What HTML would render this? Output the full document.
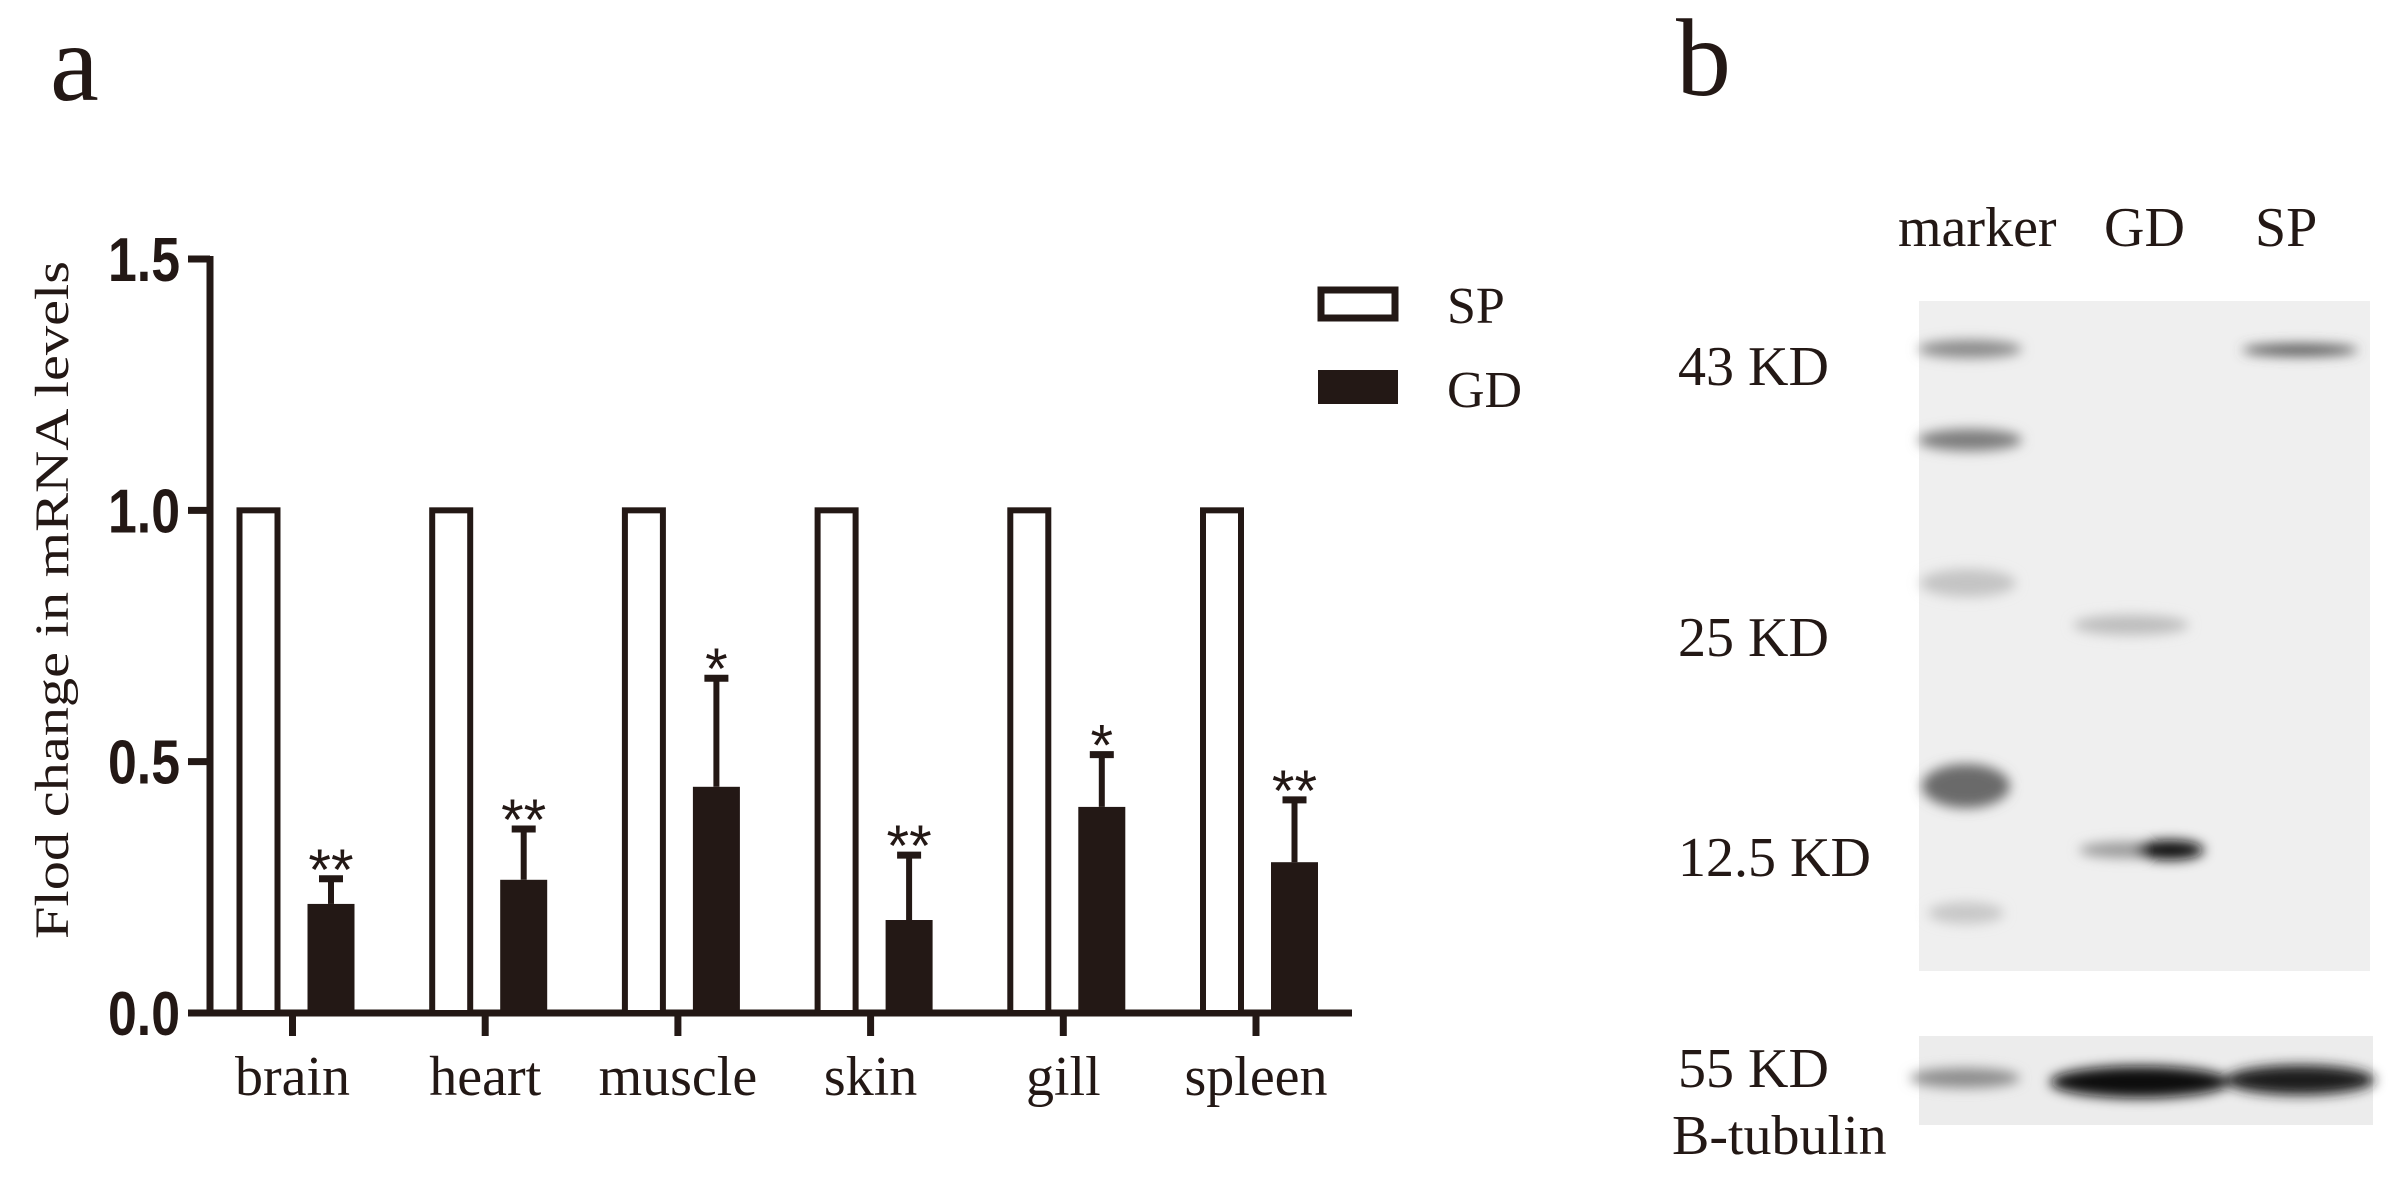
<!DOCTYPE html>
<html><head><meta charset="utf-8"><style>
html,body{margin:0;padding:0;background:#fff;}
svg{display:block;}
</style></head><body>
<svg id="fig" width="2405" height="1177" viewBox="0 0 2405 1177" xmlns="http://www.w3.org/2000/svg">
<defs>
<filter id="blur6" x="-50%" y="-200%" width="200%" height="500%"><feGaussianBlur stdDeviation="6"/></filter>
</defs>
<text x="50" y="100" font-family="Liberation Serif, serif" font-size="110" fill="#231815">a</text>
<text x="1676" y="95" font-family="Liberation Serif, serif" font-size="110" fill="#231815">b</text>
<g id="chart"></g>
<g id="legend">
<rect x="1321" y="290" width="74" height="28" fill="#fff" stroke="#231815" stroke-width="7"/>
<text x="1447" y="323" font-family="Liberation Serif, serif" font-size="52" fill="#231815">SP</text>
<rect x="1318" y="370" width="80" height="34" fill="#231815"/>
<text x="1447" y="407" font-family="Liberation Serif, serif" font-size="52" fill="#231815">GD</text>
</g>
<g id="blot" font-family="Liberation Serif, serif" font-size="56" fill="#231815">
<text x="1898" y="246">marker</text>
<text x="2104" y="246">GD</text>
<text x="2255" y="246">SP</text>
<text x="1678" y="385">43 KD</text>
<text x="1678" y="656">25 KD</text>
<text x="1678" y="876">12.5 KD</text>
<text x="1678" y="1087">55 KD</text>
<text x="1672" y="1154">B-tubulin</text>
<rect x="1919" y="301" width="451" height="670" fill="#efefef"/>
<rect x="1919" y="1036" width="454" height="89" fill="#ececec"/>
<g filter="url(#blur6)">
<ellipse cx="1970" cy="349" rx="52" ry="9" fill="#8a8a8a"/>
<ellipse cx="1970" cy="440" rx="52" ry="11" fill="#7d7d7d"/>
<ellipse cx="1968" cy="583" rx="48" ry="14" fill="#c4c4c4"/>
<ellipse cx="1966" cy="786" rx="44" ry="22" fill="#6a6a6a"/>
<ellipse cx="1966" cy="913" rx="38" ry="11" fill="#c8c8c8"/>
<ellipse cx="2131" cy="625" rx="58" ry="10" fill="#bdbdbd"/>
<ellipse cx="2125" cy="850" rx="46" ry="8" fill="#9a9a9a"/>
<ellipse cx="2170" cy="850" rx="34" ry="10" fill="#111"/>
<ellipse cx="2300" cy="350" rx="58" ry="6" fill="#555"/>
<ellipse cx="1965" cy="1078" rx="55" ry="10" fill="#8d8d8d"/>
<ellipse cx="2140" cy="1082" rx="90" ry="16" fill="#111"/>
<ellipse cx="2300" cy="1080" rx="75" ry="15" fill="#1a1a1a"/>
</g>
</g>
</svg>
<script>
const categories = ["brain","heart","muscle","skin","gill","spleen"];
const spValues = [1,1,1,1,1,1];
const gdValues = [0.217,0.265,0.45,0.185,0.41,0.30];
const gdErrors = [0.056,0.107,0.222,0.135,0.11,0.13];
const stars = ["**","**","*","**","*","**"];
const yTicks = [0,0.5,1.0,1.5];
const yTickLabels = ["0.0","0.5","1.0","1.5"];

const NS="http://www.w3.org/2000/svg";
const g=document.getElementById('chart');
const C="#231815";
const x0=210, x1=1352, y0=1013, yTop=259, yMax=1.5;
function yScale(v){return y0-(v/yMax)*(y0-yTop);}
const firstTick=292.5, step=192.7;
function xScale(i){return firstTick+i*step;}
function mk(tag,attrs){const e=document.createElementNS(NS,tag);for(const k in attrs)e.setAttribute(k,attrs[k]);g.appendChild(e);return e;}

let e=mk('line',{x1:x0,y1:yTop-3,x2:x0,y2:y0+3.5,stroke:C,'stroke-width':7});


e=mk('line',{x1:x0-22,y1:y0,x2:x1,y2:y0,stroke:C,'stroke-width':7});



yTicks.forEach((t,i)=>{
  const y=yScale(t);
  let tk=mk('line',{x1:x0-22,y1:y,x2:x0,y2:y,stroke:C,'stroke-width':7});
  
  
  let tl=mk('text',{x:x0-30,y:y+22,'text-anchor':'end','font-family':'Liberation Sans, sans-serif','font-weight':'bold','font-size':62,fill:C,textLength:72,lengthAdjust:'spacingAndGlyphs'});
  tl.textContent=yTickLabels[i];
  
  
});

let yt=mk('text',{x:0,y:0,transform:'translate(68,600) rotate(-90)','text-anchor':'middle','font-family':'Liberation Serif, serif','font-size':48,fill:C,textLength:678,lengthAdjust:'spacingAndGlyphs'});
yt.textContent="Flod change in mRNA levels";



categories.forEach((c,i)=>{
  const cx=xScale(i);
  let tk=mk('line',{x1:cx,y1:y0,x2:cx,y2:y0+23,stroke:C,'stroke-width':7});
  
  
  let lb=mk('text',{x:cx,y:1095,'text-anchor':'middle','font-family':'Liberation Serif, serif','font-size':56,fill:C});
  lb.textContent=c;
  
  
  const ys=yScale(spValues[i]);
  let sp=mk('rect',{x:cx-53,y:ys,width:38,height:y0-ys,fill:'#fff',stroke:C,'stroke-width':6});
  
  
  const yg=yScale(gdValues[i]);
  let gd=mk('rect',{x:cx+15,y:yg,width:47,height:y0-yg,fill:C});
  
  
  const ec=cx+38.5, ye=yScale(gdValues[i]+gdErrors[i]);
  let st=mk('line',{x1:ec,y1:yg,x2:ec,y2:ye,stroke:C,'stroke-width':6});
  
  
  let cap=mk('line',{x1:ec-12,y1:ye+3,x2:ec+12,y2:ye+3,stroke:C,'stroke-width':7});
  
  
  let s=mk('text',{x:ec,y:ye+14,'text-anchor':'middle','font-family':'Liberation Sans, sans-serif','font-size':58,fill:C});
  s.textContent=stars[i];
  
  
});
</script>
</body></html>
